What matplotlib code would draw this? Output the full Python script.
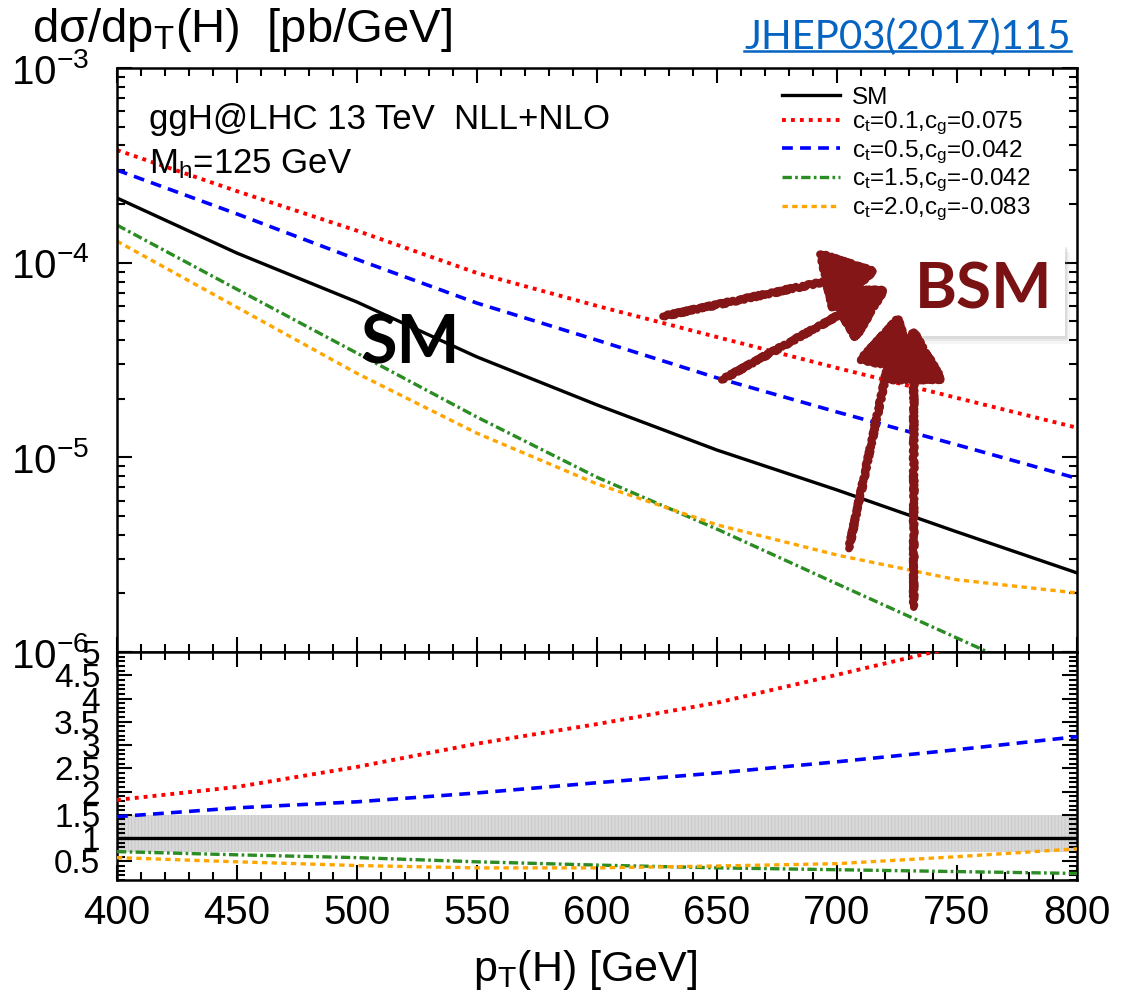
import matplotlib
matplotlib.use('Agg')
import matplotlib.pyplot as plt
from matplotlib.patches import Rectangle
from matplotlib.ticker import MultipleLocator, LogLocator, NullFormatter, FixedLocator
from matplotlib.lines import Line2D

plt.rcParams['font.family'] = 'Liberation Sans'
plt.rcParams['mathtext.fontset'] = 'custom'
plt.rcParams['mathtext.rm'] = 'Liberation Sans'
plt.rcParams['mathtext.it'] = 'Liberation Sans'
plt.rcParams['mathtext.bf'] = 'Liberation Sans:bold'
plt.rcParams['mathtext.default'] = 'regular'
plt.rcParams['hatch.linewidth'] = 0.6

# pT grid [GeV]
pt = [400, 450, 500, 550, 600, 650, 700, 750, 800]

# dsigma/dpT [pb/GeV]
xs_sm   = [2.15e-4, 1.12e-4, 6.28e-5, 3.28e-5, 1.86e-5, 1.09e-5, 6.8e-6, 4.14e-6, 2.55e-6]
xs_ct01 = [3.79e-4, 2.33e-4, 1.46e-4, 8.85e-5, 6.0e-5, 4.15e-5, 2.88e-5, 2.02e-5, 1.42e-5]
xs_ct05 = [2.99e-4, 1.78e-4, 1.04e-4, 6.2e-5, 4.0e-5, 2.56e-5, 1.71e-5, 1.16e-5, 7.8e-6]
xs_ct15 = [1.56e-4, 7.3e-5, 3.43e-5, 1.61e-5, 7.9e-6, 4.28e-6, 2.24e-6, 1.18e-6, 6.2e-7]
xs_ct20 = [1.29e-4, 5.9e-5, 2.7e-5, 1.33e-5, 7.3e-6, 4.5e-6, 3.15e-6, 2.35e-6, 2.01e-6]

# ratio to SM
r_sm   = [1.0, 1.0, 1.0, 1.0, 1.0, 1.0, 1.0, 1.0, 1.0]
r_ct01 = [1.82, 2.10, 2.53, 3.03, 3.45, 3.91, 4.51, 5.12, 5.9]
r_ct05 = [1.46, 1.65, 1.78, 1.97, 2.19, 2.40, 2.64, 2.90, 3.18]
r_ct15 = [0.71, 0.64, 0.58, 0.49, 0.42, 0.36, 0.32, 0.28, 0.24]
r_ct20 = [0.58, 0.49, 0.41, 0.36, 0.36, 0.40, 0.45, 0.60, 0.77]
band_lo = [0.7, 0.7, 0.7, 0.7, 0.7, 0.7, 0.7, 0.7, 0.7]
band_hi = [1.5, 1.5, 1.5, 1.5, 1.5, 1.5, 1.5, 1.5, 1.5]

labels = ['SM',
          'c$_t$=0.1,c$_g$=0.075',
          'c$_t$=0.5,c$_g$=0.042',
          'c$_t$=1.5,c$_g$=-0.042',
          'c$_t$=2.0,c$_g$=-0.083']
colors = ['black', '#ff0000', '#0000ff', '#2a8c22', '#ffa500']
styles = ['-', (0, (1, 1.3)), (0, (3, 2)), (0, (2.8, 1, 0.8, 1)), (0, (1.6, 1.3))]
widths = [2.4, 2.8, 2.6, 2.4, 2.4]

# hand-drawn BSM arrows: (tail, tip) in (pT, dsigma)
arrows = [((627.5, 5.3e-5), (718, 9.2e-5)),
          ((652, 2.5e-5), (722, 7.5e-5)),
          ((705, 3.4e-6), (726, 5.6e-5)),
          ((732, 1.7e-6), (732, 4.8e-5))]
dark_red = '#851618'

fig = plt.figure(figsize=(11.27, 10.02), dpi=100)
ax1 = fig.add_axes([0.1038, 0.3493, 0.8518, 0.5828])
ax2 = fig.add_axes([0.1038, 0.1218, 0.8518, 0.2275])

top_series = [xs_sm, xs_ct01, xs_ct05, xs_ct15, xs_ct20]
for ys, lab, c, ls, lw in zip(top_series, labels, colors, styles, widths):
    ax1.plot(pt, ys, color=c, ls=ls, lw=lw, label=lab)

ax2.fill_between(pt, band_lo, band_hi, facecolor='#d9d9d9', edgecolor='#c8c8c8',
                 hatch='|||||', lw=0, zorder=1)
ratio_series = [r_sm, r_ct01, r_ct05, r_ct15, r_ct20]
for ys, c, ls, lw in zip(ratio_series, colors, styles, widths):
    ax2.plot(pt, ys, color=c, ls=ls, lw=lw, zorder=3)

# axes cosmetics
for ax in (ax1, ax2):
    ax.set_xlim(400, 800)
    ax.xaxis.set_major_locator(MultipleLocator(50))
    ax.xaxis.set_minor_locator(MultipleLocator(10))
    ax.tick_params(which='both', direction='in', top=True, right=True, width=1.5)
    ax.tick_params(which='major', length=11)
    ax.tick_params(which='minor', length=6)
    for s in ax.spines.values():
        s.set_linewidth(1.8)

ax1.set_yscale('log')
ax1.set_ylim(1e-6, 1e-3)
ax1.yaxis.set_major_locator(FixedLocator([1e-6, 1e-5, 1e-4, 1e-3]))
ax1.set_yticklabels(['10$^{-6}$', '10$^{-5}$', '10$^{-4}$', '10$^{-3}$'])
ax1.yaxis.set_minor_locator(LogLocator(base=10, subs=range(2, 10)))
ax1.yaxis.set_minor_formatter(NullFormatter())
ax1.tick_params(axis='y', which='major', labelsize=29, pad=20)
ax1.tick_params(axis='x', labelbottom=False)

ax2.set_ylim(0.1, 5)
ax2.yaxis.set_minor_locator(MultipleLocator(0.1))
ax2.set_yticks([0.5, 1, 1.5, 2, 2.5, 3, 3.5, 4, 4.5, 5])
ax2.set_yticklabels(['0.5', '1', '1.5', '2', '2.5', '3', '3.5', '4', '4.5', '5'])
ax2.tick_params(axis='y', which='major', labelsize=24, pad=12)
ax2.tick_params(axis='x', which='major', labelsize=29, pad=10)

ax1.legend(loc='upper right', bbox_to_anchor=(0.962, 0.985), frameon=False,
           fontsize=17.5, handlelength=2.4, handletextpad=0.5, labelspacing=0.05,
           borderaxespad=0)

# labels and annotations
fig.text(0.028, 0.970, 'd\u03c3/dp$_T$(H)  [pb/GeV]', fontsize=34, va='center')
ax1.text(0.033, 0.94, 'ggH@LHC 13 TeV  NLL+NLO', transform=ax1.transAxes,
         fontsize=25, va='top')
ax1.text(0.033, 0.865, 'M$_h$=125 GeV', transform=ax1.transAxes, fontsize=25, va='top')
fig.text(0.519, 0.032, 'p$_T$(H) [GeV]', fontsize=31, ha='center', va='center')

ax1.text(522, 3.05e-5, 'SM', fontsize=48, fontweight='bold', family='Lato',
         ha='center', va='baseline', color='black', zorder=6)

# BSM box with soft shadow
for k, a in enumerate([0.08, 0.10, 0.13]):
    off = 0.008 - 0.0025 * k
    ax1.add_patch(Rectangle((0.821 + off * 0.6, 0.541 - off * 1.6), 0.1667, 0.1575,
                            transform=ax1.transAxes, facecolor='gray', alpha=a,
                            lw=0, zorder=7))
ax1.add_patch(Rectangle((0.821, 0.541), 0.1667, 0.1575, transform=ax1.transAxes,
                        facecolor='white', lw=0, zorder=8))
ax1.text(761, 5.85e-5, 'BSM', fontsize=46, fontweight='bold', family='Lato',
         ha='center', va='baseline', color='#7a1214', zorder=9)

for tail, tip in arrows:
    ann = ax1.annotate('', xy=tip, xytext=tail,
                       arrowprops=dict(arrowstyle='-|>,head_length=0.85,head_width=0.5',
                                       mutation_scale=40, lw=5.5, color=dark_red,
                                       shrinkA=0, shrinkB=0), zorder=10)
    ann.arrow_patch.set_sketch_params(1.2, 6, 4)

jt = fig.text(0.950, 0.963, 'JHEP03(2017)115', fontsize=29, family='Lato',
              color='#0563c1', ha='right', va='center')
fig.canvas.draw()
bb = jt.get_window_extent().transformed(fig.transFigure.inverted())
fig.add_artist(Line2D([bb.x0, bb.x1], [bb.y0 + 0.005, bb.y0 + 0.005], color='#0563c1',
                      lw=1.8, transform=fig.transFigure))

fig.savefig('out.png', dpi=100)
